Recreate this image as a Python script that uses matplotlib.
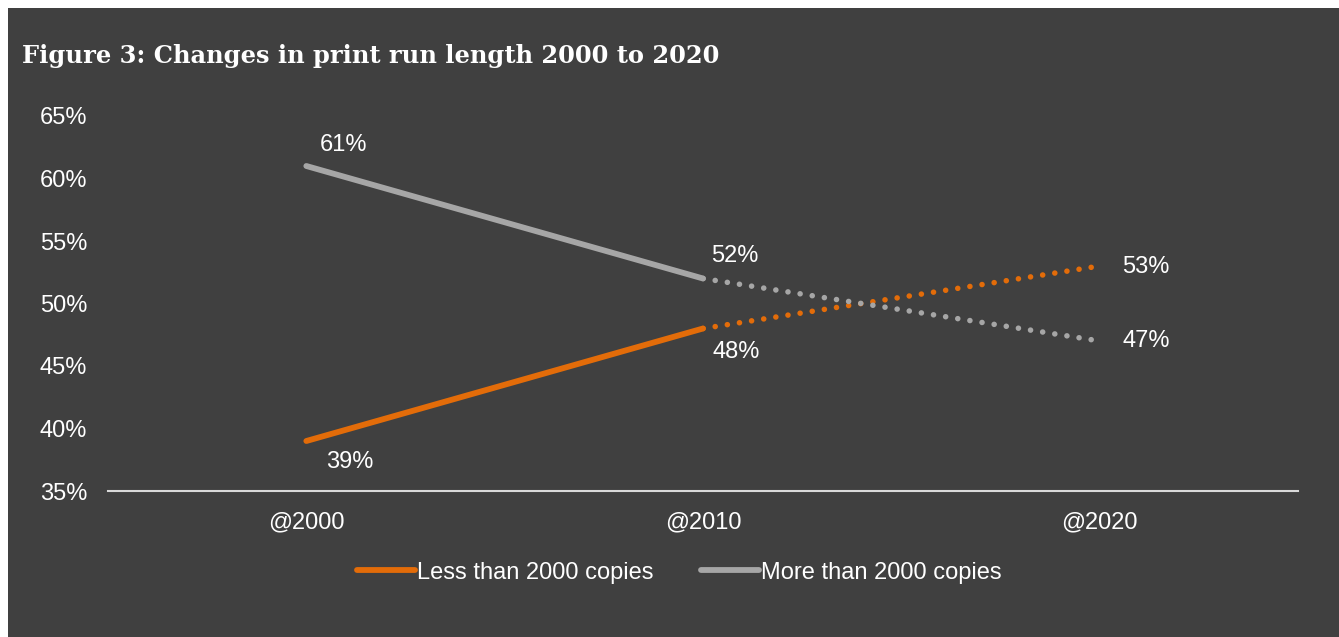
import matplotlib.pyplot as plt
from matplotlib.patches import Rectangle

periods = ['@2000', '@2010', '@2020']
less = [39, 48, 53]
more = [61, 52, 47]
yticks = [35, 40, 45, 50, 55, 60, 65]

orange = '#E36C09'
grey = '#A6A6A6'
bg = '#404040'

fig = plt.figure(figsize=(13.39, 6.37), dpi=100, facecolor='white')
fig.patches.append(Rectangle((8/1339, 0), 1, (637-8)/637, transform=fig.transFigure,
                             facecolor=bg, edgecolor='none', zorder=-10))
ax = fig.add_axes([108/1339, (637-491)/637, (1298-108)/1339, (491-116)/637])
ax.set_zorder(5)
ax.patch.set_alpha(0)

x = list(range(len(periods)))
lw = 4.2
# actual values (solid) and projection (dotted)
ax.plot(x[:2], less[:2], color=orange, lw=lw, solid_capstyle='round', label='Less than 2000 copies')
ax.plot(x[:2], more[:2], color=grey, lw=lw, solid_capstyle='round', label='More than 2000 copies')
ax.plot(x[1:], less[1:], color=orange, lw=4.0, ls=(2.2, (0.01, 2.2)), dash_capstyle='round')
ax.plot(x[1:], more[1:], color=grey, lw=4.0, ls=(2.2, (0.01, 2.2)), dash_capstyle='round')

lab = dict(color='white', fontsize=17, family='Liberation Sans', textcoords='offset points',
           ha='left', va='center')
ax.annotate(f'{more[0]}%', (x[0], more[0]), xytext=(10, 15), **lab)
ax.annotate(f'{less[0]}%', (x[0], less[0]), xytext=(14, -15), **lab)
ax.annotate(f'{more[1]}%', (x[1], more[1]), xytext=(6, 16), **lab)
ax.annotate(f'{less[1]}%', (x[1], less[1]), xytext=(7, -17), **lab)
ax.annotate(f'{less[2]}%', (x[2], less[2]), xytext=(16.5, -1), **lab)
ax.annotate(f'{more[2]}%', (x[2], more[2]), xytext=(16.5, 0), **lab)

ax.set_xlim(-0.5, 2.5)
ax.set_ylim(35, 65)
ax.set_xticks(x)
ax.set_xticklabels(periods)
ax.set_yticks(yticks)
ax.set_yticklabels([f'{v}%' for v in yticks])
for s in ['top', 'right', 'left']:
    ax.spines[s].set_visible(False)
ax.spines['bottom'].set_color('#D9D9D9')
ax.spines['bottom'].set_linewidth(1.5)
ax.tick_params(length=0, colors='white', labelsize=17)
ax.tick_params(axis='x', pad=15)
ax.tick_params(axis='y', pad=15)
for t in ax.get_xticklabels() + ax.get_yticklabels():
    t.set_family('Liberation Sans')
    t.set_color('white')

leg = ax.legend(loc='center', bbox_to_anchor=(0.48, -0.218), ncol=2, frameon=False,
                prop={'family': 'Liberation Sans', 'size': 17}, handlelength=2.45,
                handletextpad=0.1, columnspacing=2.0)
for t in leg.get_texts():
    t.set_color('white')

fig.text(22/1339, 1 - 56/637, 'Figure 3: Changes in print run length 2000 to 2020',
         color='white', fontsize=17.4, fontweight='bold', family='DejaVu Serif',
         ha='left', va='center')

fig.savefig('out.png', dpi=100, facecolor='white')
